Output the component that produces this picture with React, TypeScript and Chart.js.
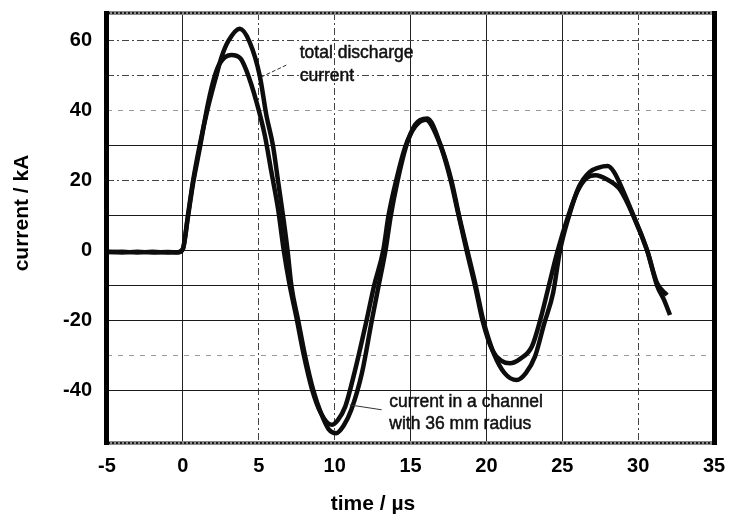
import React, { useEffect, useRef } from "react";
import { Chart, registerables } from "chart.js";

Chart.register(...registerables);

// ---- data ----
const totalTime = [
  -5, -4, -3, -2, -1, -0.3, 0, 0.33, 0.66, 1.1, 1.6, 2.2, 2.55, 3.0, 3.75,
  4.4, 5.07, 5.5, 5.94, 6.27, 6.6, 6.9, 7.15, 7.6, 8.05, 8.6, 9.15, 9.6, 10.1, 10.6,
  11.1, 11.8, 12.45, 12.9, 13.35, 13.7, 14.15, 14.7, 15.3, 16.1, 17.0, 17.7, 18.2,
  18.75, 19.3, 19.8, 20.5, 21.2, 22.0, 22.6, 23.2, 23.8, 24.4, 24.85, 25.45, 26.1,
  26.8, 27.4, 28.0, 28.4, 28.8, 29.7, 30.6, 31.25, 31.7, 32.1,
];
const totalCurrent = [
  -0.3, -0.5, -0.3, -0.5, -0.4, -0.5, 0.5, 10, 19.7, 30, 40, 50, 55.4, 60, 63.5,
  59.7, 50, 38.8, 30, 20, 10, 0, -10, -20, -30, -40, -47, -51, -52.2, -50,
  -45.5, -35, -20, -10, 0, 10, 20, 29.7, 36, 37.8, 30, 20, 10,
  0, -10, -20, -29.5, -35, -37, -35, -30.3, -21, -12, 0, 10, 18.3,
  22.5, 23.8, 24.2, 22.6, 19.2, 10, 0, -10, -14, -18.4,
];

const channelTime = [
  -5, -4, -3, -2, -1, -0.3, 0, 0.33, 0.66, 1.1, 1.65, 2.1, 2.43, 3.2, 3.8,
  4.19, 4.85, 5.4, 5.83, 6.27, 6.65, 7.0, 7.5, 7.95, 8.5, 9.1, 9.8, 10.2, 10.7, 11.3,
  12.1, 12.6, 13.2, 13.55, 14.05, 14.65, 15.3, 16.0, 16.9, 17.6, 18.15, 18.7, 19.25,
  19.75, 20.4, 21.0, 21.55, 22.2, 23.0, 23.6, 24.1, 24.7, 25.4, 26.0, 26.6, 27.2,
  27.9, 28.8, 29.7, 30.6, 31.25, 31.9,
];
const channelCurrent = [
  -0.4, -0.3, -0.5, -0.3, -0.5, -0.4, 0.5, 9.5, 19, 29, 42, 50, 53.6, 56, 55,
  51.5, 42.6, 33, 22.6, 12, 0, -9, -19.5, -29.5, -39.5, -46.5, -49.8, -48.5, -44.6, -35,
  -20, -10, 0, 10, 20, 29.7, 35.5, 37.5, 31, 21, 10.5, 0, -10,
  -20, -28.5, -31.5, -32.2, -31, -27.4, -19, -10.3, 0, 10, 17, 20.8, 21.6,
  20.5, 17.5, 9.8, 0, -9.3, -12.7,
];

const xMin = -5;
const xMax = 35;
const xStep = 5;
const yMin = -55;
const yMax = 68;
const yGridStep = 10;
const yLabelStep = 20;

const xTitle = "time / \u00b5s";
const yTitle = "current / kA";

const totalLabelLines = ["total discharge", "current"];
const totalLabelAt = [7.7, 55.2];
const totalLeader = [6.82, 53.1, 5.17, 49.7];

const channelLabelLines = ["current in a channel", "with 36 mm radius"];
const channelLabelAt = [13.6, -44.6];
const channelLeader = [13.1, -45.5, 10.99, -44.1];

// grid line styles per value
const solidX = [0, 15, 20, 25];
const solidY = [30, 10, 0, -10, -20, -40];
const faintY = [40, -30];

const FONT = "'Liberation Sans', Arial, Helvetica, sans-serif";

const framePlugin = {
  id: "framePlugin",
  afterDraw(chart: any) {
    const ctx = chart.ctx;
    const { left, right, top, bottom } = chart.chartArea;
    const xs = chart.scales.x;
    const ys = chart.scales.y;
    ctx.save();
    // hatched top / bottom
    ctx.lineCap = "butt";
    ctx.strokeStyle = "#8a8a8a";
    ctx.lineWidth = 4;
    ctx.beginPath();
    ctx.moveTo(left - 3, top);
    ctx.lineTo(right + 3, top);
    ctx.moveTo(left - 3, bottom);
    ctx.lineTo(right + 3, bottom);
    ctx.stroke();
    ctx.setLineDash([2, 2]);
    ctx.strokeStyle = "#1a1a1a";
    ctx.lineWidth = 2;
    ctx.beginPath();
    ctx.moveTo(left - 3, top);
    ctx.lineTo(right + 3, top);
    ctx.moveTo(left - 3, bottom);
    ctx.lineTo(right + 3, bottom);
    ctx.stroke();
    ctx.setLineDash([]);
    // thick left/right
    ctx.fillStyle = "#000";
    ctx.fillRect(left - 3, top - 2, 5, bottom - top + 4);
    ctx.fillRect(right - 2, top - 2, 5, bottom - top + 4);

    // annotations
    ctx.fillStyle = "#111";
    ctx.strokeStyle = "#111";
    ctx.lineWidth = 0.5;
    ctx.font = `17.5px ${FONT}`;
    ctx.textAlign = "left";
    ctx.textBaseline = "alphabetic";
    const tx = xs.getPixelForValue(totalLabelAt[0]);
    const ty = ys.getPixelForValue(totalLabelAt[1]);
    totalLabelLines.forEach((s, i) => {
      ctx.fillText(s, tx, ty + i * 23);
      ctx.strokeText(s, tx, ty + i * 23);
    });
    const cx = xs.getPixelForValue(channelLabelAt[0]);
    const cy = ys.getPixelForValue(channelLabelAt[1]);
    channelLabelLines.forEach((s, i) => {
      ctx.fillText(s, cx, cy + i * 22.5);
      ctx.strokeText(s, cx, cy + i * 22.5);
    });

    ctx.strokeStyle = "#333";
    ctx.lineWidth = 1;
    ctx.setLineDash([4, 2]);
    ctx.beginPath();
    ctx.moveTo(xs.getPixelForValue(totalLeader[0]), ys.getPixelForValue(totalLeader[1]));
    ctx.lineTo(xs.getPixelForValue(totalLeader[2]), ys.getPixelForValue(totalLeader[3]));
    ctx.stroke();
    ctx.setLineDash([]);
    ctx.beginPath();
    ctx.moveTo(xs.getPixelForValue(channelLeader[0]), ys.getPixelForValue(channelLeader[1]));
    ctx.lineTo(xs.getPixelForValue(channelLeader[2]), ys.getPixelForValue(channelLeader[3]));
    ctx.stroke();

    // axis titles
    ctx.fillStyle = "#000";
    ctx.font = `bold 21px ${FONT}`;
    ctx.textAlign = "center";
    ctx.textBaseline = "middle";
    ctx.fillText(xTitle, 373, 504);
    ctx.save();
    ctx.translate(22, 213);
    ctx.rotate(-Math.PI / 2);
    ctx.fillText(yTitle, 0, 0);
    ctx.restore();
    ctx.restore();
  },
};

export default function App() {
  const ref = useRef<HTMLCanvasElement | null>(null);

  useEffect(() => {
    document.body.style.margin = "0";
    const canvas = ref.current;
    if (!canvas) return;
    const chart = new Chart(canvas, {
      type: "line",
      data: {
        datasets: [
          {
            label: "total discharge current",
            data: totalTime.map((t, i) => ({ x: t, y: totalCurrent[i] })),
            borderColor: "#0d0d0d",
            borderWidth: 4.5,
            pointRadius: 0,
            cubicInterpolationMode: "monotone",
            fill: false,
          },
          {
            label: "current in a channel with 36 mm radius",
            data: channelTime.map((t, i) => ({ x: t, y: channelCurrent[i] })),
            borderColor: "#0d0d0d",
            borderWidth: 4.5,
            pointRadius: 0,
            cubicInterpolationMode: "monotone",
            fill: false,
          },
        ],
      },
      options: {
        animation: false,
        responsive: true,
        maintainAspectRatio: false,
        layout: { padding: { left: 0, right: 15, top: 13, bottom: 0 }, autoPadding: false },
        plugins: { legend: { display: false }, tooltip: { enabled: false } },
        scales: {
          x: {
            type: "linear",
            min: xMin,
            max: xMax,
            afterFit: (s: any) => {
              s.height = 73;
              s.paddingLeft = 0;
              s.paddingRight = 0;
            },
            ticks: {
              stepSize: xStep,
              autoSkip: false,
              maxRotation: 0,
              padding: 11,
              color: "#000",
              font: { family: FONT, size: 20, weight: "bold" },
            },
            grid: {
              drawTicks: false,
              lineWidth: 1,
              color: (c: any) => {
                const v = c.tick ? c.tick.value : 0;
                if (v === xMin || v === xMax) return "rgba(0,0,0,0)";
                return solidX.includes(v) ? "#222" : "#444";
              },
            },
            border: {
              display: false,
              dash: (c: any) => {
                const v = c.tick ? c.tick.value : 0;
                return solidX.includes(v) ? [] : [7, 3, 2, 3];
              },
            },
          },
          y: {
            type: "linear",
            min: yMin,
            max: yMax,
            afterFit: (s: any) => {
              s.width = 107;
              s.paddingTop = 0;
              s.paddingBottom = 0;
            },
            ticks: {
              stepSize: yGridStep,
              autoSkip: false,
              padding: 15,
              color: "#000",
              font: { family: FONT, size: 20, weight: "bold" },
              callback: (v: any) => (Number(v) % yLabelStep === 0 ? String(v) : ""),
            },
            grid: {
              drawTicks: false,
              lineWidth: 1,
              color: (c: any) => {
                const v = c.tick ? c.tick.value : 0;
                if (v % yGridStep !== 0) return "rgba(0,0,0,0)";
                if (faintY.includes(v)) return "#9a9a9a";
                return solidY.includes(v) ? "#1a1a1a" : "#444";
              },
            },
            border: {
              display: false,
              dash: (c: any) => {
                const v = c.tick ? c.tick.value : 0;
                if (faintY.includes(v)) return [5, 6];
                return solidY.includes(v) ? [] : [7, 3, 2, 3];
              },
            },
          },
        },
      },
      plugins: [framePlugin],
    });
    return () => chart.destroy();
  }, []);

  return (
    <div style={{ width: 729, height: 516, position: "relative", background: "#fff" }}>
      <canvas ref={ref} />
    </div>
  );
}
